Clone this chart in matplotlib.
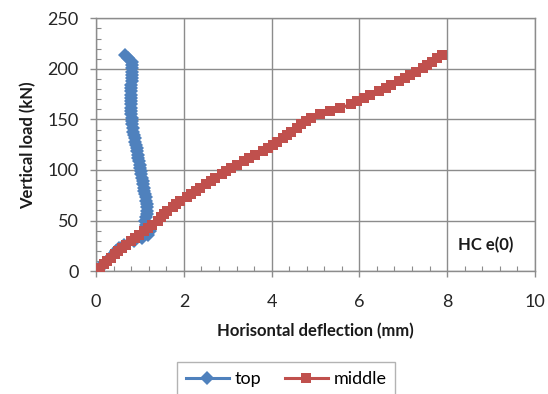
import matplotlib
matplotlib.use("Agg")
import matplotlib.pyplot as plt
from matplotlib.ticker import MultipleLocator

plt.rcParams['font.family'] = ['Lato', 'DejaVu Sans']

# Applied vertical load (kN), shared load steps
load_kN = [0, 3, 7, 10, 13, 17, 20, 23, 26, 30, 33, 36, 40, 43, 46, 50, 53, 56, 59,
           63, 66, 69, 73, 76, 79, 82, 86, 89, 92, 96, 99, 102, 105, 109, 112, 115,
           119, 122, 125, 128, 132, 135, 138, 142, 145, 148, 151, 155, 158, 161, 165,
           168, 171, 174, 178, 181, 184, 188, 191, 194, 197, 201, 204, 207, 211, 214]

# Horizontal deflection (mm) at the top
top_mm = [0.00, 0.07, 0.17, 0.24, 0.31, 0.40, 0.46, 0.51, 0.64, 0.86, 1.05, 1.18, 1.22,
          1.18, 1.14, 1.12, 1.13, 1.15, 1.16, 1.16, 1.15, 1.14, 1.13, 1.12, 1.10, 1.09,
          1.07, 1.06, 1.05, 1.03, 1.02, 1.00, 0.99, 0.97, 0.96, 0.95, 0.93, 0.92, 0.91,
          0.89, 0.88, 0.86, 0.85, 0.83, 0.82, 0.81, 0.81, 0.80, 0.80, 0.80, 0.80, 0.80,
          0.80, 0.80, 0.80, 0.80, 0.80, 0.81, 0.81, 0.81, 0.81, 0.81, 0.82, 0.82, 0.73,
          0.65]

# Horizontal deflection (mm) at the middle
middle_mm = [0.00, 0.08, 0.18, 0.25, 0.33, 0.43, 0.50, 0.59, 0.68, 0.80, 0.89, 0.98,
             1.10, 1.19, 1.28, 1.40, 1.47, 1.55, 1.62, 1.74, 1.83, 1.92, 2.06, 2.16,
             2.27, 2.37, 2.51, 2.62, 2.72, 2.86, 2.97, 3.08, 3.20, 3.36, 3.49, 3.62,
             3.80, 3.92, 4.03, 4.13, 4.26, 4.35, 4.44, 4.57, 4.68, 4.78, 4.90, 5.10,
             5.34, 5.56, 5.80, 5.95, 6.10, 6.25, 6.45, 6.60, 6.73, 6.91, 7.04, 7.16,
             7.28, 7.44, 7.54, 7.65, 7.78, 7.88]

series_names = ["top", "middle"]
annotation = "HC e(0)"

BLUE = "#4F81BD"
RED = "#C0504D"
GRID = "#8C8C8C"

fig = plt.figure(figsize=(5.48, 3.94), dpi=100)
ax = fig.add_axes([0.1755, 0.312, 0.8005, 0.6415])

ax.plot(top_mm, load_kN, color=BLUE, lw=2.2, marker='D', markersize=7,
        markeredgewidth=0, label=series_names[0], zorder=3)
ax.plot(middle_mm, load_kN, color=RED, lw=2.2, marker='s', markersize=7.5,
        markeredgewidth=0, label=series_names[1], zorder=4)

ax.set_xlim(0, 10)
ax.set_ylim(0, 250)
ax.xaxis.set_major_locator(MultipleLocator(2))
ax.xaxis.set_minor_locator(MultipleLocator(0.4))
ax.yaxis.set_major_locator(MultipleLocator(50))
ax.yaxis.set_minor_locator(MultipleLocator(10))

ax.grid(True, which='major', color=GRID, lw=1.0)
ax.set_axisbelow(True)
for s in ax.spines.values():
    s.set_color(GRID)
    s.set_linewidth(1.0)

ax.tick_params(which='major', direction='out', length=4.5, width=1.0, color=GRID,
               labelsize=13, labelcolor='#262626')
ax.tick_params(axis='y', which='major', pad=8)
ax.tick_params(axis='x', which='major', pad=12)
ax.tick_params(which='minor', direction='in', length=3.5, width=0.8, color=GRID)

ax.set_xlabel("Horisontal deflection (mm)", fontsize=12, fontweight='bold',
              color='#1a1a1a', labelpad=9)
ax.set_ylabel("Vertical load (kN)", fontsize=12, fontweight='bold',
              color='#1a1a1a', labelpad=8)

ax.text(8.24, 26, annotation, fontsize=12, fontweight='bold', color='#1a1a1a',
        ha='left', va='center')

leg = fig.legend(loc='upper center', bbox_to_anchor=(0.522, 0.081), ncol=2,
                 fontsize=13, frameon=True, fancybox=False, edgecolor='#A0A0A0',
                 handlelength=2.4, handletextpad=0.3, columnspacing=1.3,
                 borderpad=0.5, borderaxespad=0)
leg.get_frame().set_linewidth(1.0)

fig.savefig("out.png", dpi=100)
